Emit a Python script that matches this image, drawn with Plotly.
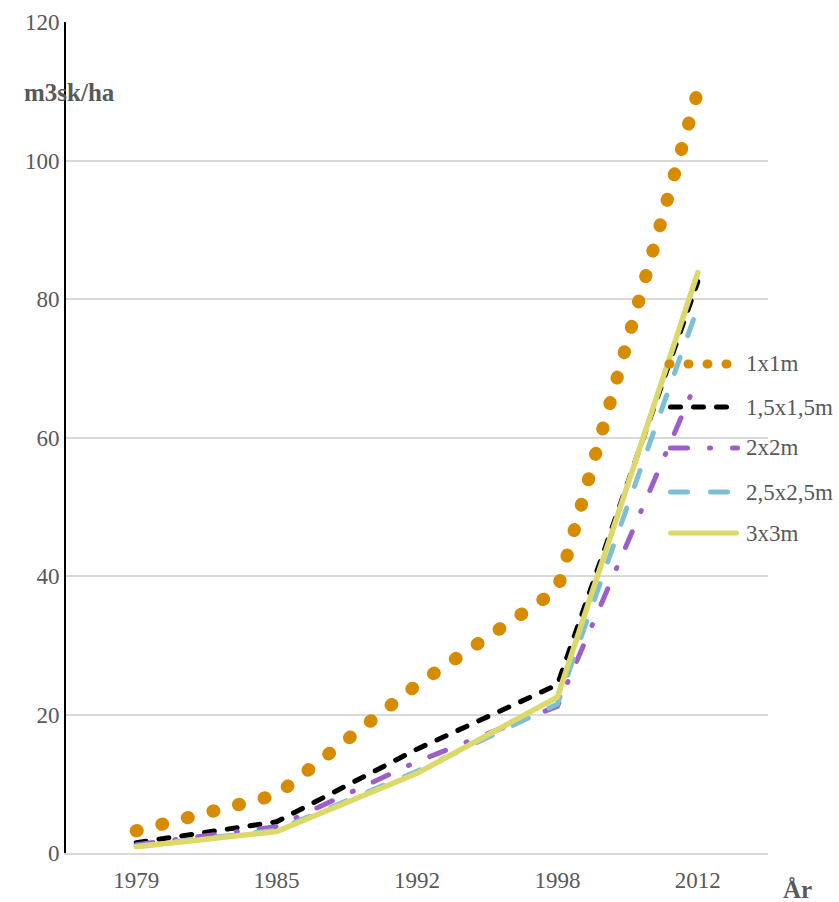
import plotly.graph_objects as go

# Measurement years (category axis)
years = ["1979", "1985", "1992", "1998", "2012"]

# Volume m3sk/ha per spacing
vol_1x1 = [3.2, 8.4, 24.3, 38.0, 110.0]
vol_15x15 = [1.5, 4.5, 15.0, 24.3, 82.5]
vol_2x2 = [1.2, 3.8, 13.2, 21.2, 68.5]
vol_25x25 = [1.0, 3.3, 11.8, 21.5, 78.8]
vol_3x3 = [0.9, 3.1, 11.5, 22.5, 83.8]

series_names = ["1x1m", "1,5x1,5m", "2x2m", "2,5x2,5m", "3x3m"]
y_ticks = [0, 20, 40, 60, 80, 100, 120]

W, H = 839, 902
L, R, T, B = 66, 768, 22, 853  # plot area in pixels

TEXT = "#595959"
FONT = "Liberation Serif"

styles = [
    dict(color="#d68b00", width=13, dash="1px,25.4px"),
    dict(color="#000000", width=5, dash="10px,13px"),
    dict(color="#9c5ecb", width=5, dash="17px,22px,1px,22px"),
    dict(color="#7fbfd6", width=5, dash="17px,23px"),
    dict(color="#dcd86a", width=5.5, dash="solid"),
]
legend_styles = [
    dict(color="#d68b00", width=9, dash="1px,18px"),
    dict(color="#000000", width=5, dash="10px,13px"),
    dict(color="#9c5ecb", width=5, dash="17px,22px,1px,22px"),
    dict(color="#7fbfd6", width=5, dash="17px,23px"),
    dict(color="#dcd86a", width=5, dash="solid"),
]
legend_x = [(669, 732), (670.5, 727.5), (670.5, 737.5), (670.5, 727.5), (670.5, 736.5)]
legend_y = [364, 407, 448, 492, 533]

series = [vol_1x1, vol_15x15, vol_2x2, vol_25x25, vol_3x3]

fig = go.Figure()
for name, vals, st in zip(series_names, series, styles):
    fig.add_trace(go.Scatter(x=years, y=vals, name=name, mode="lines",
                             line=st, showlegend=False, hoverinfo="skip"))


def px_x(p):
    return (p - L) / (R - L)


def px_y(p):
    return (B - p) / (B - T)


shapes = []
annotations = []
for name, st, (x0, x1), yy in zip(series_names, legend_styles, legend_x, legend_y):
    shapes.append(dict(type="line", xref="paper", yref="paper",
                       x0=px_x(x0), x1=px_x(x1), y0=px_y(yy), y1=px_y(yy),
                       line=st, layer="above"))
    annotations.append(dict(xref="paper", yref="paper", x=px_x(744), y=px_y(yy),
                            xanchor="left", yanchor="middle", showarrow=False,
                            text=name, font=dict(family=FONT, size=23, color=TEXT)))

annotations.append(dict(xref="paper", yref="paper", x=px_x(22), y=px_y(92),
                        xanchor="left", yanchor="middle", showarrow=False,
                        text="<b>m3sk/ha</b>", font=dict(family=FONT, size=25, color=TEXT)))
annotations.append(dict(xref="paper", yref="paper", x=px_x(797), y=px_y(889),
                        xanchor="center", yanchor="middle", showarrow=False,
                        text="<b>År</b>", font=dict(family=FONT, size=25, color=TEXT)))

fig.update_layout(
    width=W, height=H,
    margin=dict(l=L, r=W - R, t=T, b=H - B, pad=0, autoexpand=False),
    paper_bgcolor="white", plot_bgcolor="white",
    font=dict(family=FONT, color=TEXT),
    shapes=shapes, annotations=annotations,
    showlegend=False,
)
fig.update_xaxes(type="category", range=[-0.5, 4.5], showgrid=False,
                 showline=True, linecolor="#d9d9d9", linewidth=1.5,
                 ticks="", tickfont=dict(family=FONT, size=23, color=TEXT),
                 ticklabelstandoff=6, automargin=False, zeroline=False)
fig.update_yaxes(range=[0, 120], tickvals=y_ticks, showgrid=True,
                 gridcolor="#d9d9d9", gridwidth=1.5,
                 showline=True, linecolor="#000000", linewidth=2,
                 ticks="", tickfont=dict(family=FONT, size=23, color=TEXT),
                 automargin=False, zeroline=False)

# Round line caps so dotted and dashed strokes get rounded ends
post = ("var s=document.createElement('style');"
        "s.textContent='.js-line, .shapelayer path{stroke-linecap:round;}';"
        "document.head.appendChild(s);")
fig.write_html("out.html", post_script=post)
